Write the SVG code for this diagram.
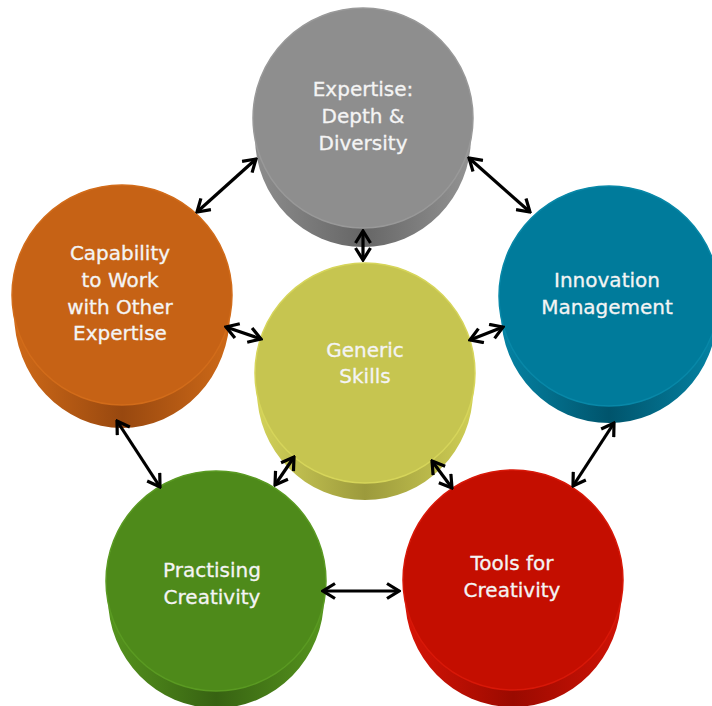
<svg xmlns="http://www.w3.org/2000/svg" width="712" height="706" viewBox="0 0 712 706">
<style>
.lbl{font-family:"DejaVu Sans",Verdana,sans-serif;font-size:20px;fill:#f4f4f4;text-anchor:middle;stroke:#f4f4f4;stroke-width:0.3}
.con{stroke:#000;stroke-width:3.2;fill:none;marker-start:url(#ah);marker-end:url(#ah)}
</style>
<defs>
<marker id="ah" viewBox="0 0 16 18" refX="14" refY="9" markerWidth="16" markerHeight="18" markerUnits="userSpaceOnUse" orient="auto-start-reverse">
<path d="M2,1.5 L14,9 L2,16.5" fill="none" stroke="#000" stroke-width="3.2" stroke-linejoin="miter"/>
</marker>
<linearGradient id="gGray" x1="0" x2="1" y1="0" y2="0"><stop offset="0" stop-color="#8e8e8e"/><stop offset="0.5" stop-color="#666"/><stop offset="1" stop-color="#949494"/></linearGradient>
<linearGradient id="gYel" x1="0" x2="1" y1="0" y2="0"><stop offset="0" stop-color="#d4d35a"/><stop offset="0.5" stop-color="#9c9a3c"/><stop offset="1" stop-color="#d0cf55"/></linearGradient>
<linearGradient id="gOr" x1="0" x2="1" y1="0" y2="0"><stop offset="0" stop-color="#d06a18"/><stop offset="0.5" stop-color="#98480f"/><stop offset="1" stop-color="#cf6a18"/></linearGradient>
<linearGradient id="gTeal" x1="0" x2="1" y1="0" y2="0"><stop offset="0" stop-color="#0584a5"/><stop offset="0.5" stop-color="#00546c"/><stop offset="1" stop-color="#0584a5"/></linearGradient>
<linearGradient id="gRed" x1="0" x2="1" y1="0" y2="0"><stop offset="0" stop-color="#d81406"/><stop offset="0.5" stop-color="#9a0a00"/><stop offset="1" stop-color="#d01306"/></linearGradient>
<linearGradient id="gGrn" x1="0" x2="1" y1="0" y2="0"><stop offset="0" stop-color="#56951e"/><stop offset="0.5" stop-color="#376212"/><stop offset="1" stop-color="#56951e"/></linearGradient>
</defs>

<g id="expertise">
<path d="M253,118 L255,137 A108,110 0 0 0 471,137 L473,118 Z" fill="url(#gGray)"/>
<circle cx="363" cy="118" r="110" fill="#8e8e8e" stroke="#999" stroke-width="1.5"/>
<text class="lbl" x="363" y="96">Expertise:</text>
<text class="lbl" x="363" y="123">Depth &amp;</text>
<text class="lbl" x="363" y="150">Diversity</text>
</g>

<g id="generic">
<path d="M255,373 L257,391 A108,109 0 0 0 473,391 L475,373 Z" fill="url(#gYel)"/>
<circle cx="365" cy="373" r="110" fill="#c6c550" stroke="#d6d55a" stroke-width="1.5"/>
<text class="lbl" x="365" y="357">Generic</text>
<text class="lbl" x="365" y="383">Skills</text>
</g>

<g id="capability">
<path d="M12,295 L14,313 A108,115 0 0 0 230,313 L232,295 Z" fill="url(#gOr)"/>
<circle cx="122" cy="295" r="110" fill="#c66215" stroke="#d26c1a" stroke-width="1.5"/>
<text class="lbl" x="120" y="260">Capability</text>
<text class="lbl" x="120" y="287">to Work</text>
<text class="lbl" x="120" y="314">with Other</text>
<text class="lbl" x="120" y="340">Expertise</text>
</g>

<g id="innovation">
<path d="M499,296 L501,313 A108,110 0 0 0 717,313 L719,296 Z" fill="url(#gTeal)"/>
<circle cx="609" cy="296" r="110" fill="#007b9b" stroke="#0888a8" stroke-width="1.5"/>
<text class="lbl" x="607" y="287">Innovation</text>
<text class="lbl" x="607" y="314">Management</text>
</g>

<g id="tools">
<path d="M403,580 L405,597 A108,110 0 0 0 621,597 L623,580 Z" fill="url(#gRed)"/>
<circle cx="513" cy="580" r="110" fill="#c40e00" stroke="#d81808" stroke-width="1.5"/>
<text class="lbl" x="512" y="570">Tools for</text>
<text class="lbl" x="512" y="597">Creativity</text>
</g>

<g id="practising">
<path d="M106,581 L108,598 A108,110 0 0 0 324,598 L326,581 Z" fill="url(#gGrn)"/>
<circle cx="216" cy="581" r="110" fill="#4e8a1a" stroke="#5a9a22" stroke-width="1.5"/>
<text class="lbl" x="212" y="577">Practising</text>
<text class="lbl" x="212" y="604">Creativity</text>
</g>

<g id="connectors">
<line class="con" x1="256" y1="159" x2="197" y2="212"/>
<line class="con" x1="469" y1="158" x2="530" y2="212"/>
<line class="con" x1="363" y1="231" x2="363" y2="260"/>
<line class="con" x1="226" y1="327" x2="261" y2="339"/>
<line class="con" x1="503" y1="327" x2="470" y2="340"/>
<line class="con" x1="117" y1="421" x2="160" y2="487"/>
<line class="con" x1="294" y1="457" x2="275" y2="485"/>
<line class="con" x1="432" y1="461" x2="452" y2="488"/>
<line class="con" x1="614" y1="423" x2="573" y2="486"/>
<line class="con" x1="323" y1="591" x2="399" y2="591"/>
</g>
</svg>
